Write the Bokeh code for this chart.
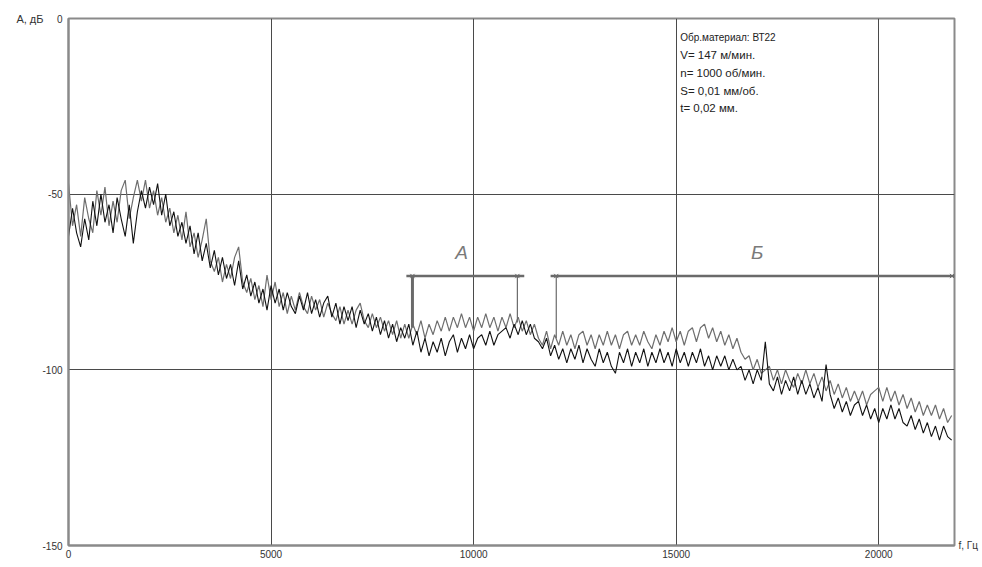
from bokeh.plotting import figure
from bokeh.models import Range1d, FixedTicker, Label, ColumnDataSource, LinearAxis
from bokeh.embed import file_html
from bokeh.resources import INLINE

# sampling grid, Hz
freq = list(range(0, 21900, 100))

# series 1 (black), dB
s1 = [
    -62, -54, -61, -65, -57, -63, -52, -59, -50, -58,
    -53, -61, -51, -57, -62, -53, -64, -55, -49, -54,
    -48, -53, -47, -56, -50, -59, -55, -62, -58, -64,
    -59, -67, -61, -69, -64, -71, -66, -73, -68, -74,
    -70, -76, -69, -77, -73, -79, -75, -81, -77, -83,
    -76, -81, -77, -83, -78, -82, -84, -79, -83, -78,
    -84, -80, -85, -81, -79, -85, -81, -87, -82, -86,
    -82, -88, -83, -87, -84, -89, -85, -90, -86, -91,
    -87, -92, -88, -91, -87, -93, -89, -95, -91, -96,
    -92, -95, -91, -96, -92, -90, -95, -91, -94, -90,
    -94, -91, -90, -93, -89, -93, -90, -89, -88, -91,
    -87, -90, -86, -90, -87, -91, -92, -94, -91, -96,
    -93, -97, -94, -98, -94, -97, -93, -98, -94, -97,
    -99, -94, -98, -95, -99, -101, -95, -98, -94, -99,
    -95, -98, -94, -99, -95, -98, -94, -98, -95, -99,
    -94, -98, -95, -99, -95, -98, -94, -99, -96, -100,
    -96, -99, -96, -100, -97, -100, -99, -103, -100, -104,
    -100, -103, -92, -104, -106, -102, -107, -103, -106, -102,
    -107, -103, -107, -104, -108, -105, -109, -98.5, -107, -111,
    -108, -112, -109, -113, -110, -109, -113, -110, -114, -111,
    -115, -111, -114, -110, -114, -111, -115, -116, -113, -117,
    -114, -118, -115, -119, -116, -120, -116, -119, -120,
]

# series 2 (grey), dB
s2 = [
    -47, -59, -53, -62, -51, -57, -61, -49, -56, -48,
    -59, -52, -58, -49, -46, -57, -51, -46, -52, -46,
    -54, -49, -56, -51, -58, -54, -61, -56, -63, -55,
    -65, -61, -68, -63, -57, -69, -72, -68, -75, -70,
    -74, -68, -65, -75, -78, -74, -80, -76, -82, -73,
    -80, -75, -82, -78, -84, -79, -83, -78, -82, -84,
    -79, -83, -80, -85, -81, -84, -86, -82, -87, -83,
    -87, -83, -81, -86, -88, -84, -88, -85, -89, -86,
    -90, -86, -91, -87, -91, -87, -90, -86, -91, -87,
    -90, -86, -89, -85, -89, -85, -88, -84, -88, -85,
    -89, -85, -88, -84, -88, -85, -89, -85, -88, -84,
    -88, -85, -89, -86, -90, -87, -91, -93, -89, -94,
    -90, -93, -89, -93, -90, -94, -90, -89, -93, -90,
    -94, -90, -93, -89, -93, -90, -94, -90, -89, -93,
    -90, -93, -89, -92, -94, -90, -93, -89, -92, -88,
    -92, -89, -93, -89, -88, -92, -88, -87, -91, -88,
    -92, -89, -93, -90, -94, -91, -95, -97, -96, -100,
    -97, -101, -100, -99, -103, -100, -104, -100, -103, -105,
    -101, -104, -100, -104, -101, -105, -102, -106, -103, -107,
    -104, -108, -105, -109, -106, -109, -106, -110, -107, -106,
    -105, -109, -105, -109, -106, -110, -107, -111, -108, -112,
    -109, -113, -110, -113, -110, -114, -111, -115, -113,
]

x_ticks = [0, 5000, 10000, 15000, 20000]
y_ticks = [-150, -100, -50, 0]

info_lines = [
    "Обр.материал: ВТ22",
    "V= 147 м/мин.",
    "n= 1000 об/мин.",
    "S= 0,01 мм/об.",
    "t= 0,02 мм.",
]

# annotation brackets (Hz / dB)
bracket_level = -73.3
a_start, a_end = 8340, 11250
a_left, a_right = 8490, 11080
b_start, b_end = 11900, 21870
b_left = 12040

FONT = "Liberation Sans"
TXT = "#333333"

p = figure(width=982, height=567, output_backend="svg", toolbar_location=None,
           x_range=Range1d(0, 21870), y_range=Range1d(-150, 0),
           min_border_left=68, min_border_right=28, min_border_top=18,
           min_border_bottom=22)
p.background_fill_color = "white"
p.border_fill_color = "white"
p.outline_line_color = "#8a8a8a"
p.outline_line_width = 2


def plain_axis(ax):
    ax.major_tick_in = 0
    ax.major_tick_out = 0
    ax.minor_tick_in = 0
    ax.minor_tick_out = 0
    ax.major_label_text_font = FONT
    ax.major_label_text_font_size = "10px"
    ax.major_label_text_color = TXT


for ax in (p.xaxis[0], p.yaxis[0]):
    plain_axis(ax)
    ax.axis_line_color = "#8a8a8a"
    ax.axis_line_width = 2
p.xaxis[0].ticker = FixedTicker(ticks=x_ticks)
p.yaxis[0].ticker = FixedTicker(ticks=y_ticks)
p.yaxis[0].major_label_overrides = {t: str(t) for t in y_ticks}
p.xaxis[0].major_label_standoff = 4
p.yaxis[0].major_label_standoff = 6

# unit labels as extra axes with a single tick
y_unit = LinearAxis(ticker=FixedTicker(ticks=[0]),
                    major_label_overrides={0: "А, дБ"}, axis_line_color=None)
plain_axis(y_unit)
y_unit.major_label_text_font_size = "11px"
y_unit.major_label_standoff = -4
p.add_layout(y_unit, "left")

x_unit = LinearAxis(ticker=FixedTicker(ticks=[-150]),
                    major_label_overrides={-150: "f, Гц"}, axis_line_color=None)
plain_axis(x_unit)
x_unit.major_label_standoff = 4
p.add_layout(x_unit, "right")

p.xgrid.ticker = FixedTicker(ticks=x_ticks)
p.ygrid.ticker = FixedTicker(ticks=y_ticks)
for g in (p.xgrid[0], p.ygrid[0]):
    g.grid_line_color = "#4a4a4a"
    g.grid_line_width = 1
    g.grid_line_alpha = 1.0

src = ColumnDataSource(dict(f=freq, s1=s1, s2=s2))
p.line("f", "s2", source=src, line_color="#6e6e6e", line_width=1.2)
p.line("f", "s1", source=src, line_color="#111111", line_width=1.1)

# brackets
br_col = "#6a6a6a"
p.segment(x0=[a_start, b_start], y0=[bracket_level] * 2,
          x1=[a_end, b_end], y1=[bracket_level] * 2,
          line_color=br_col, line_width=2.5)
p.segment(x0=[a_left], y0=[bracket_level], x1=[a_left], y1=[-88],
          line_color=br_col, line_width=3)
p.segment(x0=[a_right, b_left], y0=[bracket_level] * 2,
          x1=[a_right, b_left], y1=[-86.5, -91],
          line_color=br_col, line_width=1.2)
p.scatter(x=[a_left, a_right, b_left, b_end - 60], y=[bracket_level] * 4,
          marker="x", size=6, line_color=br_col, line_width=1)

for txt, fx in (("А", 9700), ("Б", 17000)):
    p.add_layout(Label(x=fx, y=-66.5, text=txt, text_font=FONT,
                       text_font_style="italic", text_font_size="19px",
                       text_color="#7a7a7a", text_align="center",
                       text_baseline="middle"))

for i, line in enumerate(info_lines):
    p.add_layout(Label(x=15100, y=-5.4 - i * 5.05, text=line, text_font=FONT,
                       text_font_size="10px" if i == 0 else "11.5px",
                       text_color="#222222",
                       text_align="left", text_baseline="middle"))

open("out.html", "w").write(file_html(p, INLINE))
